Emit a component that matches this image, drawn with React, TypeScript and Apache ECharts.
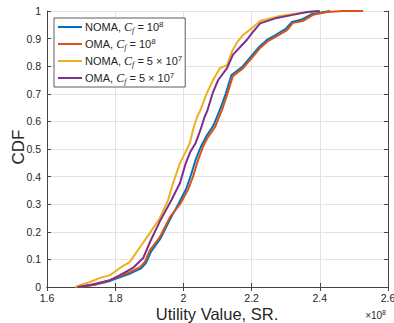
import React, { useEffect, useRef } from "react";
import * as echarts from "echarts";

// x values are in units of 10^8
const noma1X = [1.69, 1.74, 1.785, 1.846, 1.876, 1.89, 1.905, 1.933, 1.962, 1.985, 2.008, 2.022, 2.037, 2.052, 2.068, 2.088, 2.108, 2.124, 2.141, 2.172, 2.198, 2.222, 2.245, 2.27, 2.3, 2.318, 2.345, 2.375, 2.43];
const noma1Y = [0, 0.008, 0.022, 0.05, 0.068, 0.087, 0.128, 0.176, 0.248, 0.3, 0.355, 0.405, 0.465, 0.51, 0.548, 0.585, 0.645, 0.7, 0.768, 0.797, 0.835, 0.87, 0.895, 0.913, 0.935, 0.96, 0.968, 0.988, 1.0];

const oma1X = [1.69, 1.74, 1.785, 1.843, 1.873, 1.887, 1.902, 1.931, 1.961, 1.99, 2.013, 2.028, 2.043, 2.057, 2.072, 2.093, 2.113, 2.128, 2.145, 2.175, 2.201, 2.225, 2.248, 2.274, 2.304, 2.321, 2.351, 2.38, 2.421, 2.468, 2.527];
const oma1Y = [0, 0.008, 0.025, 0.054, 0.072, 0.091, 0.134, 0.181, 0.254, 0.3, 0.351, 0.399, 0.46, 0.507, 0.543, 0.58, 0.641, 0.696, 0.764, 0.793, 0.83, 0.866, 0.891, 0.909, 0.931, 0.957, 0.964, 0.986, 0.996, 1.0, 1.0];

const noma2X = [1.682, 1.726, 1.755, 1.785, 1.814, 1.843, 1.873, 1.902, 1.931, 1.955, 1.97, 1.99, 2.005, 2.019, 2.028, 2.04, 2.049, 2.069, 2.087, 2.107, 2.128, 2.143, 2.16, 2.175, 2.201, 2.225, 2.283, 2.321, 2.395];
const noma2Y = [0, 0.018, 0.033, 0.043, 0.069, 0.091, 0.145, 0.196, 0.25, 0.315, 0.377, 0.449, 0.486, 0.522, 0.569, 0.616, 0.638, 0.703, 0.75, 0.793, 0.804, 0.855, 0.891, 0.913, 0.938, 0.964, 0.982, 0.989, 1.0];

const oma2X = [1.69, 1.726, 1.785, 1.814, 1.852, 1.882, 1.902, 1.933, 1.965, 1.99, 2.007, 2.02, 2.036, 2.05, 2.062, 2.07, 2.086, 2.102, 2.128, 2.145, 2.172, 2.186, 2.201, 2.225, 2.274, 2.321, 2.362, 2.4];
const oma2Y = [0, 0.007, 0.025, 0.043, 0.069, 0.105, 0.163, 0.243, 0.315, 0.377, 0.449, 0.489, 0.522, 0.569, 0.616, 0.638, 0.703, 0.75, 0.793, 0.841, 0.877, 0.895, 0.92, 0.955, 0.975, 0.986, 0.996, 1.0];

const seriesNames = ["NOMA1", "OMA1", "NOMA2", "OMA2"];
const legendLabels: Record<string, string> = {
  NOMA1: "{n|NOMA, }{i|C}{sub|f}{n| = 10}{sup|8}",
  OMA1: "{n|OMA, }{i|C}{sub|f}{n| = 10}{sup|8}",
  NOMA2: "{n|NOMA, }{i|C}{sub|f}{n| = 5 × 10}{sup|7}",
  OMA2: "{n|OMA, }{i|C}{sub|f}{n| = 5 × 10}{sup|7}",
};
const colors = ["#0072BD", "#D95319", "#EDB120", "#7E2F8E"];
const xTicks = [1.6, 1.8, 2.0, 2.2, 2.4, 2.6];
const xTitle = "Utility Value, SR.";
const yTitle = "CDF";

const FONT = "Liberation Sans, Arial, sans-serif";

export default function App() {
  const ref = useRef<HTMLDivElement>(null);
  useEffect(() => {
    if (!ref.current) return;
    const chart = echarts.init(ref.current, undefined, { renderer: "svg" });
    const xs = [noma1X, oma1X, noma2X, oma2X];
    const ys = [noma1Y, oma1Y, noma2Y, oma2Y];
    const axisLineStyle = { color: "#444", width: 1 };
    chart.setOption({
      animation: false,
      backgroundColor: "#fff",
      grid: { left: 47, right: 6, top: 11, bottom: 36, containLabel: false, outerBoundsMode: "none" },
      xAxis: [
        {
          type: "value",
          min: 1.6,
          max: 2.6,
          interval: 0.2,
          axisLine: { show: true, lineStyle: axisLineStyle },
          axisTick: { show: true, inside: true, length: 4, lineStyle: axisLineStyle },
          axisLabel: {
            color: "#262626",
            fontSize: 10.5,
            fontFamily: FONT,
            margin: 5,
            formatter: (v: number) => {
              const m = xTicks.find((t) => Math.abs(t - v) < 1e-6);
              return m === undefined ? "" : String(Math.round(m * 10) / 10);
            },
          },
          splitLine: { show: true, lineStyle: { color: "#e3e3e3", width: 1 } },
        },
        {
          type: "value",
          position: "top",
          min: 1.6,
          max: 2.6,
          interval: 0.2,
          axisLine: { show: true, lineStyle: axisLineStyle },
          axisTick: { show: true, inside: true, length: 4, lineStyle: axisLineStyle },
          axisLabel: { show: false },
          splitLine: { show: false },
        },
      ],
      yAxis: [
        {
          type: "value",
          min: 0,
          max: 1,
          interval: 0.1,
          axisLine: { show: true, lineStyle: axisLineStyle },
          axisTick: { show: true, inside: true, length: 4, lineStyle: axisLineStyle },
          axisLabel: {
            color: "#262626",
            fontSize: 10.5,
            fontFamily: FONT,
            margin: 6,
            formatter: (v: number) => String(Math.round(v * 10) / 10),
          },
          splitLine: { show: true, lineStyle: { color: "#e3e3e3", width: 1 } },
        },
        {
          type: "value",
          position: "right",
          min: 0,
          max: 1,
          interval: 0.1,
          axisLine: { show: true, lineStyle: axisLineStyle },
          axisTick: { show: true, inside: true, length: 4, lineStyle: axisLineStyle },
          axisLabel: { show: false },
          splitLine: { show: false },
        },
      ],
      legend: {
        show: true,
        orient: "vertical",
        left: 54,
        top: 18,
        data: seriesNames,
        itemWidth: 24,
        itemHeight: 12,
        itemGap: 3,
        padding: [2, 3, 2, 4],
        borderColor: "#333",
        borderWidth: 0.8,
        backgroundColor: "#fff",
        icon: "path://M0,5 L24,5 L24,7 L0,7 Z",
        formatter: (name: string) => legendLabels[name],
        textStyle: {
          padding: [0, 0, 0, -2],
          rich: {
            n: { fontSize: 11, color: "#262626", fontFamily: FONT, lineHeight: 14 },
            i: { fontSize: 12, fontStyle: "italic", color: "#262626", fontFamily: "Liberation Serif, serif", lineHeight: 14 },
            sub: { fontSize: 8, fontStyle: "italic", color: "#262626", fontFamily: "Liberation Serif, serif", lineHeight: 8, verticalAlign: "bottom" },
            sup: { fontSize: 8, color: "#262626", fontFamily: FONT, lineHeight: 8, verticalAlign: "top" },
          },
        },
      },
      graphic: [
        {
          type: "text",
          x: 217,
          y: 314,
          style: {
            text: xTitle,
            fontSize: 16.5,
            fill: "#262626",
            fontFamily: FONT,
            align: "center",
            verticalAlign: "middle",
          },
        },
        {
          type: "text",
          x: 18,
          y: 147,
          rotation: Math.PI / 2,
          style: {
            text: yTitle,
            fontSize: 17,
            fill: "#262626",
            fontFamily: FONT,
            align: "center",
            verticalAlign: "middle",
          },
        },
        {
          type: "text",
          right: 8,
          top: 309,
          style: {
            text: "{a|×10}{b|8}",
            rich: {
              a: { fontSize: 10, fill: "#262626", fontFamily: FONT, lineHeight: 12 },
              b: { fontSize: 7, fill: "#262626", fontFamily: FONT, lineHeight: 7, verticalAlign: "top" },
            },
          },
        },
      ],
      series: seriesNames.map((name, k) => ({
        name,
        type: "line",
        xAxisIndex: 0,
        yAxisIndex: 0,
        showSymbol: false,
        symbol: "none",
        lineStyle: { color: colors[k], width: 2 },
        itemStyle: { color: colors[k] },
        data: xs[k].map((x, i) => [x, ys[k][i]]),
      })),
    });
    return () => chart.dispose();
  }, []);
  return <div ref={ref} style={{ width: 394, height: 323, position: "absolute", left: 0, top: 0 }} />;
}
